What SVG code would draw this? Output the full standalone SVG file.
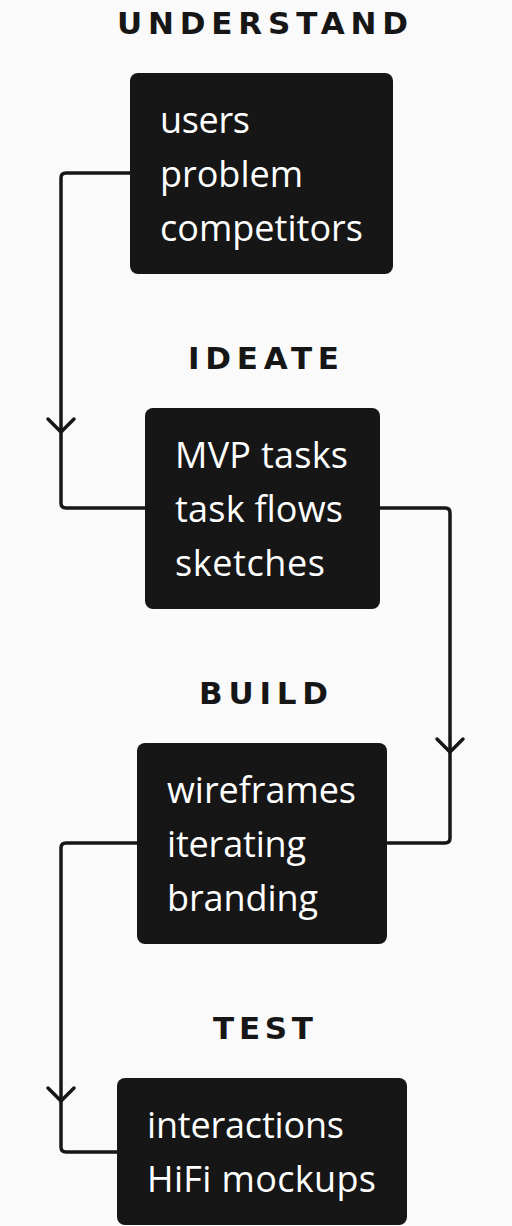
<svg xmlns="http://www.w3.org/2000/svg" width="512" height="1226" viewBox="0 0 512 1226">
<style>
.bg{fill:#fafafa}
.box{fill:#161616}
.title{font-family:"DejaVu Sans","Liberation Sans",sans-serif;font-weight:700;font-size:31px;fill:#161616}
.item{font-family:"Open Sans","Liberation Sans",sans-serif;font-weight:400;font-size:36px;fill:#ffffff}
.conn{fill:none;stroke:#161616;stroke-width:3.5;stroke-linecap:round;stroke-linejoin:round}
</style>
<rect class="bg" x="0" y="0" width="512" height="1226"/>
<g id="connectors">
<path class="conn" d="M130,173 H66 Q61,173 61,178 V503 Q61,508 66,508 H145"/>
<path class="conn" d="M48,419 L61,432 L74,419"/>
<path class="conn" d="M380,508 H445 Q450,508 450,513 V838 Q450,843 445,843 H387"/>
<path class="conn" d="M437,739 L450,752 L463,739"/>
<path class="conn" d="M137,843 H66 Q61,843 61,848 V1147 Q61,1152 66,1152 H117"/>
<path class="conn" d="M48,1088 L61,1101 L74,1088"/>
</g>
<g id="understand">
<text class="title" x="117" y="34" textLength="291" lengthAdjust="spacing">UNDERSTAND</text>
<rect class="box" x="130" y="73" width="263" height="201" rx="8"/>
<text class="item" x="160" y="133" textLength="90" lengthAdjust="spacing">users</text>
<text class="item" x="160" y="187" textLength="143" lengthAdjust="spacing">problem</text>
<text class="item" x="160" y="241" textLength="203" lengthAdjust="spacing">competitors</text>
</g>
<g id="ideate">
<text class="title" x="188" y="369" textLength="151" lengthAdjust="spacing">IDEATE</text>
<rect class="box" x="145" y="408" width="235" height="201" rx="8"/>
<text class="item" x="175" y="468" textLength="173" lengthAdjust="spacing">MVP tasks</text>
<text class="item" x="175" y="522" textLength="168" lengthAdjust="spacing">task flows</text>
<text class="item" x="175" y="576" textLength="150" lengthAdjust="spacing">sketches</text>
</g>
<g id="build">
<text class="title" x="199" y="704" textLength="129" lengthAdjust="spacing">BUILD</text>
<rect class="box" x="137" y="743" width="250" height="201" rx="8"/>
<text class="item" x="167" y="803" textLength="189" lengthAdjust="spacing">wireframes</text>
<text class="item" x="167" y="857" textLength="139" lengthAdjust="spacing">iterating</text>
<text class="item" x="167" y="911" textLength="151" lengthAdjust="spacing">branding</text>
</g>
<g id="test">
<text class="title" x="213" y="1039" textLength="100" lengthAdjust="spacing">TEST</text>
<rect class="box" x="117" y="1078" width="290" height="147" rx="8"/>
<text class="item" x="147" y="1138" textLength="197" lengthAdjust="spacing">interactions</text>
<text class="item" x="147" y="1192" textLength="229" lengthAdjust="spacing">HiFi mockups</text>
</g>
</svg>
